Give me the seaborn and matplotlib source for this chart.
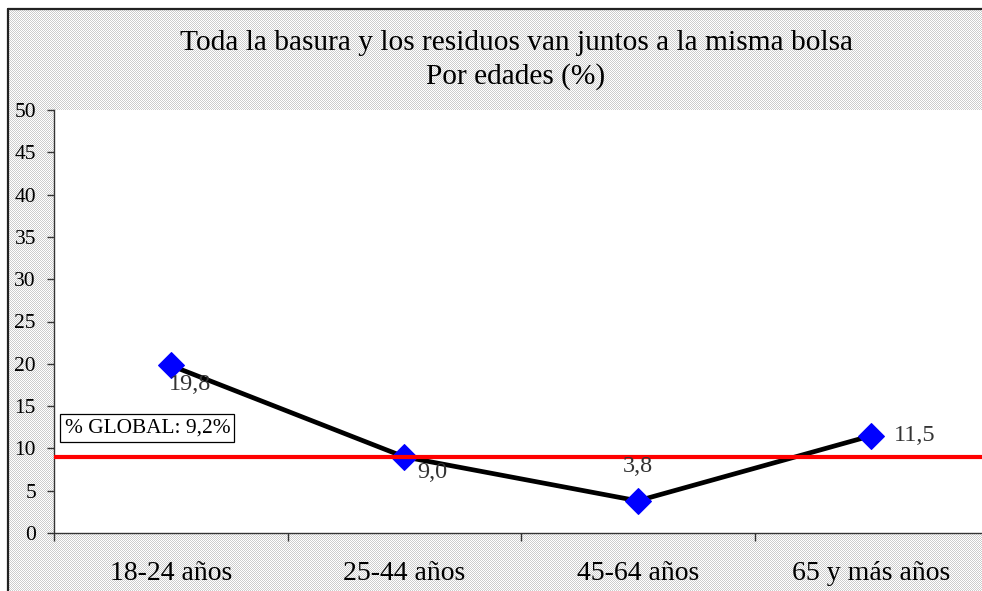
import numpy as np
import pandas as pd
import matplotlib
matplotlib.use("Agg")
import matplotlib.pyplot as plt
import seaborn as sns
from matplotlib.ticker import FixedLocator, NullFormatter

categories = ["18-24 años", "25-44 años", "45-64 años", "65 y más años"]
values = [19.8, 9.0, 3.8, 11.5]
value_labels = ["19,8", "9,0", "3,8", "11,5"]
global_label = "% GLOBAL: 9,2%"
global_line = 9.0
title_lines = ["Toda la basura y los residuos van juntos a la misma bolsa", "Por edades (%)"]
yticks = list(range(0, 51, 5))

sns.set_theme(style="white")
plt.rcParams["font.family"] = ["Liberation Serif", "DejaVu Serif"]

W, H, DPI = 982, 591, 100
fig = plt.figure(figsize=(W / DPI, H / DPI), dpi=DPI)
fig.patch.set_facecolor("white")

# checkerboard background pattern inside the border
yy, xx = np.mgrid[0:H, 0:W]
chk = np.where((xx + yy) % 2 == 0, 0.8, 1.0)
img = np.dstack([chk, chk, chk])
img[: 10, :, :] = 1.0
img[:, : 9, :] = 1.0
fig.figimage(img, xo=0, yo=0, origin="upper", zorder=-5)

# border lines (top and left)
fig.add_artist(plt.Line2D([8 / W, 8 / W], [0, 1 - 9 / H], color="#222222", lw=1.6, transform=fig.transFigure))
fig.add_artist(plt.Line2D([8 / W, 1], [1 - 9 / H, 1 - 9 / H], color="#222222", lw=1.6, transform=fig.transFigure))

left, right, top, bottom = 54 / W, 988 / W, 1 - 110 / H, 1 - 533 / H
ax = fig.add_axes([left, bottom, right - left, top - bottom])
ax.set_facecolor("white")
ax.set_zorder(2)

df = pd.DataFrame({"cat": categories, "x": np.arange(len(categories)), "val": values})
sns.lineplot(data=df, x="x", y="val", ax=ax, color="black", lw=3.4, zorder=3,
             marker="D", markersize=13, markerfacecolor="#0000ff", markeredgecolor="#0000ff")
ax.axhline(global_line, color="#ff0000", lw=3, zorder=4)

ax.set_xlim(-0.5, len(categories) - 0.5)
ax.set_ylim(0, 50)
ax.set_yticks(yticks)
ax.set_yticklabels([str(t) for t in yticks], fontsize=15.5, color="black")
ax.set_xticks(df["x"])
ax.set_xticklabels(categories, fontsize=20, color="black")
ax.xaxis.set_minor_locator(FixedLocator(np.arange(-0.5, len(categories), 1.0)))
ax.xaxis.set_minor_formatter(NullFormatter())
ax.tick_params(axis="x", which="major", length=0, pad=20)
ax.tick_params(axis="x", which="minor", length=6, width=1, color="#333333", direction="out", bottom=True)
ax.tick_params(axis="y", length=5, width=1, color="#333333", direction="out", left=True, pad=8)
ax.set_xlabel("")
ax.set_ylabel("")
for s in ["top", "right"]:
    ax.spines[s].set_visible(False)
for s in ["left", "bottom"]:
    ax.spines[s].set_color("#333333")
    ax.spines[s].set_linewidth(1)

offsets = [(14, -14), (20, -11), (0, 25), (16, 0)]
aligns = [("center", "center"), ("center", "center"), ("center", "center"), ("left", "center")]
for i, (v, lab) in enumerate(zip(values, value_labels)):
    ax.annotate(lab, (i, v), xytext=offsets[i], textcoords="offset points",
                ha=aligns[i][0], va=aligns[i][1], fontsize=17.5, color="#333333", zorder=5)

ax.text(-0.455, 12.4, global_label, fontsize=15.4, color="black", ha="left", va="center",
        bbox=dict(boxstyle="square,pad=0.2", facecolor="white", edgecolor="black", lw=0.9), zorder=6)

fig.text(516 / W, 1 - 43 / H, title_lines[0], fontsize=21.2, ha="center", va="center", color="black")
fig.text(516 / W, 1 - 77 / H, title_lines[1], fontsize=21.2, ha="center", va="center", color="black")

fig.savefig("out.png", dpi=DPI)
